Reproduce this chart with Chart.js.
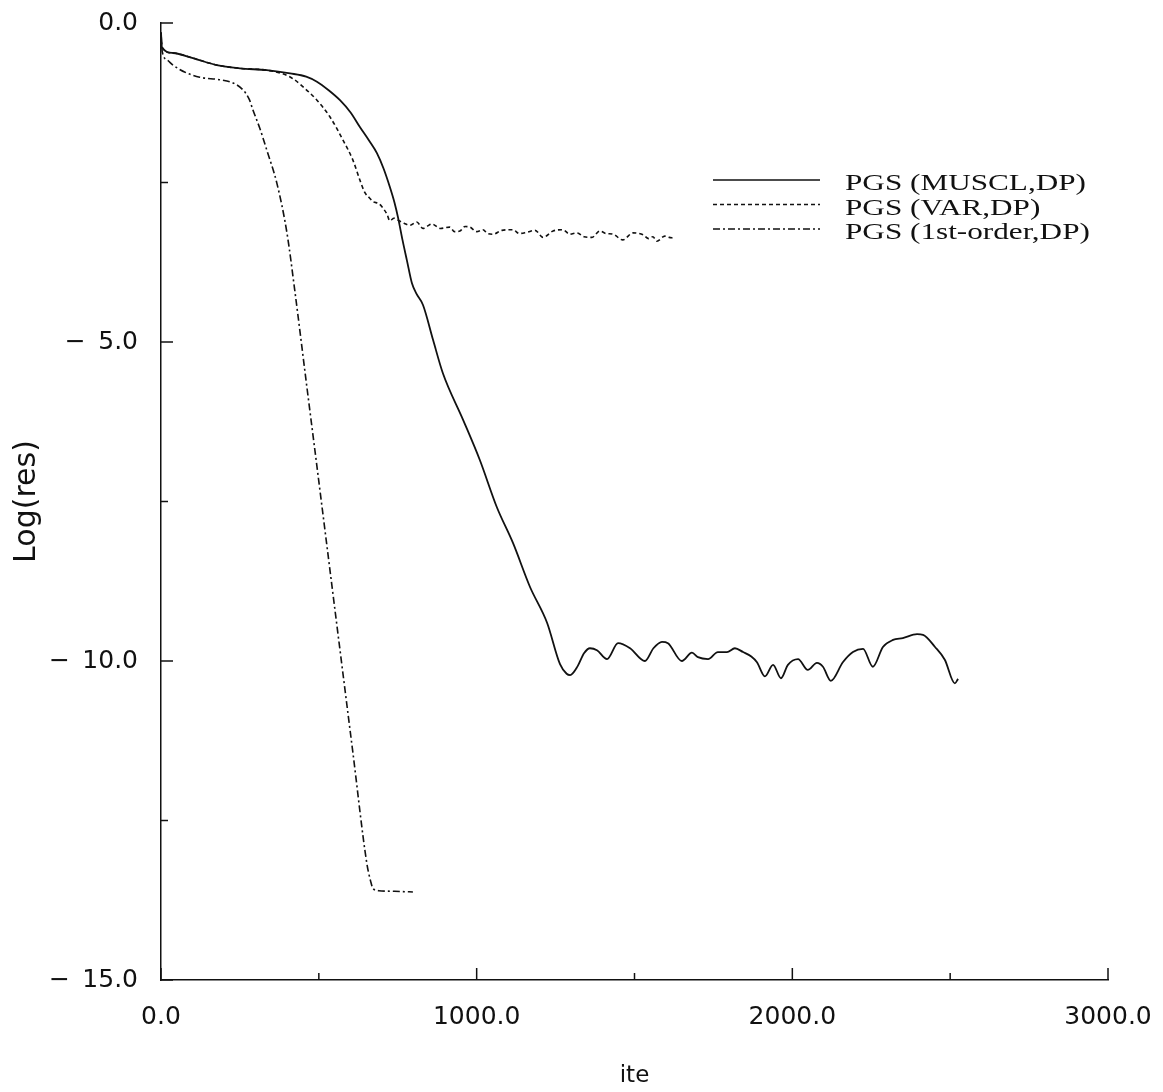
<!DOCTYPE html>
<html>
<head>
<meta charset="utf-8">
<script src="https://cdn.jsdelivr.net/npm/chart.js@4.4.1/dist/chart.umd.min.js"></script>
<style>
  html, body { margin: 0; padding: 0; background: #fff; }
  #wrap { width: 1163px; height: 1092px; }
</style>
</head>
<body>
<div id="wrap"><canvas id="myChart" width="1163" height="1092"></canvas></div>
<script>
// [ite, log(res)]
const muscl = [
    [0, -0.15], [3, -0.38], [38, -0.47], [101, -0.55], [177, -0.66], [250, -0.71],
    [335, -0.74], [409, -0.79], [460, -0.84], [494, -0.92], [530, -1.05], [567, -1.21],
    [600, -1.40], [630, -1.63], [660, -1.85], [684, -2.04], [705, -2.28], [725, -2.57],
    [740, -2.82], [751, -3.05], [765, -3.40], [779, -3.72], [795, -4.08], [810, -4.25],
    [830, -4.42], [862, -4.97], [893, -5.49], [957, -6.22], [1010, -6.85], [1064, -7.59],
    [1115, -8.15], [1169, -8.84], [1223, -9.40], [1264, -10.05], [1285, -10.2], [1296, -10.22],
    [1320, -10.08], [1340, -9.88], [1359, -9.80], [1381, -9.83], [1413, -9.97], [1448, -9.72],
    [1486, -9.80], [1533, -10.0], [1560, -9.80], [1587, -9.70], [1606, -9.72], [1650, -10.0],
    [1682, -9.87], [1701, -9.94], [1733, -9.97], [1764, -9.86], [1793, -9.86], [1818, -9.80],
    [1844, -9.86], [1870, -9.93], [1888, -10.02], [1913, -10.24], [1939, -10.06], [1964, -10.27],
    [1986, -10.06], [2018, -9.97], [2049, -10.14], [2078, -10.03], [2097, -10.09], [2122, -10.31],
    [2160, -10.02], [2192, -9.86], [2224, -9.81], [2255, -10.09], [2287, -9.78], [2319, -9.67],
    [2350, -9.64], [2395, -9.58], [2414, -9.59], [2452, -9.78], [2483, -9.98], [2515, -10.35],
    [2525, -10.28]
]
const varDp = [
    [0, -0.15], [3, -0.38], [38, -0.47], [101, -0.55], [177, -0.66], [250, -0.71],
    [335, -0.74], [388, -0.80], [420, -0.88], [450, -1.0], [494, -1.21], [535, -1.47],
    [576, -1.83], [608, -2.15], [630, -2.46], [646, -2.66], [660, -2.74], [672, -2.80],
    [690, -2.83], [700, -2.88], [716, -3.0], [725, -3.1], [738, -3.06], [751, -3.09],
    [770, -3.14], [789, -3.17], [810, -3.12], [830, -3.22], [845, -3.18], [858, -3.15],
    [885, -3.22], [915, -3.20], [930, -3.27], [947, -3.26], [963, -3.19], [979, -3.20],
    [1000, -3.27], [1020, -3.24], [1035, -3.30], [1052, -3.31], [1080, -3.25], [1115, -3.24],
    [1135, -3.30], [1159, -3.28], [1185, -3.25], [1210, -3.36], [1242, -3.26], [1273, -3.24],
    [1295, -3.31], [1318, -3.29], [1340, -3.35], [1365, -3.36], [1390, -3.26], [1410, -3.30],
    [1432, -3.31], [1463, -3.40], [1495, -3.29], [1527, -3.32], [1545, -3.38], [1558, -3.35],
    [1571, -3.42], [1596, -3.34], [1610, -3.36], [1622, -3.37]
]
const firstOrder = [
    [0, -0.15], [4, -0.45], [20, -0.58], [38, -0.66], [80, -0.78], [123, -0.85],
    [187, -0.89], [228, -0.94], [260, -1.05], [280, -1.20], [291, -1.36], [313, -1.65],
    [335, -1.99], [367, -2.51], [399, -3.29], [424, -4.20], [462, -5.70], [494, -6.95],
    [526, -8.21], [561, -9.59], [608, -11.44], [652, -13.17], [664, -13.45], [672, -13.57],
    [690, -13.60], [740, -13.61], [798, -13.62]
]
const seriesNames = ['PGS (MUSCL,DP)', 'PGS (VAR,DP)', 'PGS (1st-order,DP)']
const xTicks = [0, 1000, 2000, 3000]
const yTicks = [0, -5, -10, -15]

const ink = '#111'
const tickFont = { family: '"DejaVu Sans", sans-serif', size: 25 }

function fmt(v) {
    if (v === 0) return '0.0'
    return (v < 0 ? '\u2212\u2002' : '') + Math.abs(v).toFixed(1)
}

// ticks drawn inward from the axis lines
const inwardTicks = {
    id: 'inwardTicks',
    afterDatasetsDraw(chart) {
        const { ctx, chartArea, scales } = chart
        ctx.save()
        ctx.strokeStyle = ink
        ctx.lineWidth = 1.5
        scales.x.ticks.forEach(t => {
            const px = scales.x.getPixelForValue(t.value)
            const len = xTicks.includes(t.value) ? 12 : 7
            ctx.beginPath()
            ctx.moveTo(px, chartArea.bottom)
            ctx.lineTo(px, chartArea.bottom - len)
            ctx.stroke()
        })
        scales.y.ticks.forEach(t => {
            const py = scales.y.getPixelForValue(t.value)
            const len = yTicks.includes(t.value) ? 12 : 7
            ctx.beginPath()
            ctx.moveTo(chartArea.left, py)
            ctx.lineTo(chartArea.left + len, py)
            ctx.stroke()
        })
        ctx.restore()
    }
}

// line key in the upper right of the plot
const lineKey = {
    id: 'lineKey',
    afterDraw(chart) {
        const ctx = chart.ctx
        chart.data.datasets.forEach((ds, i) => {
            const y = 180 + i * 24.5
            ctx.save()
            ctx.strokeStyle = ds.borderColor
            ctx.lineWidth = 1.5
            ctx.setLineDash(ds.borderDash || [])
            ctx.beginPath()
            ctx.moveTo(713, y)
            ctx.lineTo(820, y)
            ctx.stroke()
            ctx.setLineDash([])
            ctx.fillStyle = ink
            ctx.font = '24px "Liberation Serif", serif'
            ctx.textBaseline = 'middle'
            ctx.translate(845, y + 4)
            ctx.scale(1.3, 1)
            ctx.fillText(ds.label, 0, 0)
            ctx.restore()
        })
    }
}

function render_chart() {
    const toPts = arr => arr.map(p => ({ x: p[0], y: p[1] }))
    const data = {
        datasets: [
            { label: seriesNames[0], data: toPts(muscl), borderColor: ink, borderWidth: 1.8, borderDash: [] },
            { label: seriesNames[1], data: toPts(varDp), borderColor: ink, borderWidth: 1.6, borderDash: [4, 3] },
            { label: seriesNames[2], data: toPts(firstOrder), borderColor: ink, borderWidth: 1.6, borderDash: [7, 3, 2, 3] },
        ],
    }

    const config = {
        type: 'line',
        data: data,
        options: {
            responsive: false,
            animation: false,
            layout: { padding: { top: 23, right: 55, left: 0, bottom: 0 } },
            elements: {
                point: { radius: 0 },
                line: { cubicInterpolationMode: 'monotone', fill: false },
            },
            plugins: { legend: { display: false }, tooltip: { enabled: false } },
            scales: {
                x: {
                    type: 'linear',
                    min: 0,
                    max: 3000,
                    grid: { display: false, drawTicks: false },
                    border: { display: true, color: ink, width: 1.5 },
                    ticks: {
                        stepSize: 500,
                        padding: 22,
                        maxRotation: 0,
                        autoSkip: false,
                        color: ink,
                        font: tickFont,
                        callback: v => (xTicks.includes(v) ? fmt(v) : ''),
                    },
                    title: { display: true, text: 'ite', color: ink, font: { family: '"DejaVu Sans", sans-serif', size: 23 }, padding: { top: 0, bottom: 2 } },
                    afterFit: s => {
                        s.height = 112
                        s.paddingLeft = 0
                        s.paddingRight = 0
                    },
                },
                y: {
                    type: 'linear',
                    min: -15,
                    max: 0,
                    grid: { display: false, drawTicks: false },
                    border: { display: true, color: ink, width: 1.5 },
                    ticks: {
                        stepSize: 2.5,
                        padding: 23,
                        autoSkip: false,
                        color: ink,
                        font: tickFont,
                        callback: v => (yTicks.includes(v) ? fmt(v) : ''),
                    },
                    title: { display: true, text: 'Log(res)', color: ink, font: { family: '"DejaVu Sans", sans-serif', size: 30 }, padding: { top: 9, bottom: 0 } },
                    afterFit: s => {
                        s.width = 161
                        s.paddingTop = 0
                        s.paddingBottom = 0
                    },
                },
            },
        },
        plugins: [inwardTicks, lineKey],
    }

    const myChart = new Chart(document.getElementById('myChart'), config)
}

document.addEventListener('DOMContentLoaded', render_chart)
</script>
</body>
</html>
